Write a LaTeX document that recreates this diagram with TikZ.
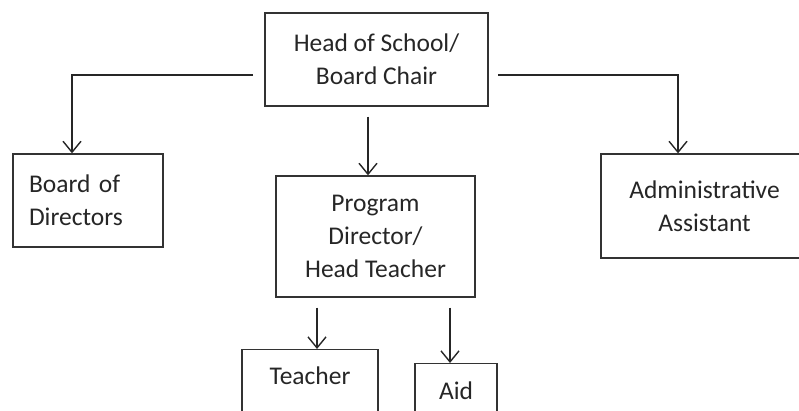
\documentclass[tikz,border=0pt]{standalone}
\usepackage{fontspec}
\setmainfont{Carlito}
\usetikzlibrary{arrows.meta,positioning,calc}
\tikzset{
	block/.style = {draw=black!80, line width=1.3pt, fill=white, rectangle, inner sep=0pt, align=center,
		font=\fontsize{25.5}{33}\selectfont, text=black!85},
	link/.style  = {->, draw=black!85, line width=1.4pt},
	tmp/.style   = {coordinate}
}
\begin{document}
\begin{tikzpicture}[x=1pt,y=-1pt,>={Straight Barb[length=11pt,width=18pt]}]
	\useasboundingbox (0,0) rectangle (799,411);
	\clip (0,0) rectangle (799,411);
	\node [block, minimum width=223pt, minimum height=93pt] (A) at (376.5,59.5) {Head of School/\\Board Chair};
	\node [block, minimum width=150pt, minimum height=93pt, text width=118pt, align=left] (B) at (88,200.5) {Board of\\Directors};
	\node [block, minimum width=199pt, minimum height=121pt] (C) at (375.5,236.5) {Program\\Director/\\Head Teacher};
	\node [block, minimum width=207pt, minimum height=104pt] (D) at (704.5,206) {Administrative\\Assistant};
	\node [block, anchor=north, minimum width=136pt, text height=35pt, text depth=45pt] (E) at (310,349) {Teacher};
	\node [block, anchor=north, minimum width=82pt, text height=36pt, text depth=45pt] (F) at (456,363) {Aid};

	\node [tmp] (left)  at (253,75) {};
	\node [tmp] (right) at (498,75) {};

	\draw [link] (left) -| ([xshift=-16pt]B.north);
	\draw [link] (right) -| ([xshift=-26.5pt]D.north);
	\draw [link] ([xshift=-8.5pt,yshift=-10pt]A.south) -- ([xshift=-7.5pt]C.north);
	\draw [link] ([xshift=-58.5pt,yshift=-10pt]C.south) -- ([xshift=7pt]E.north);
	\draw [link] ([xshift=74.5pt,yshift=-10pt]C.south) -- ([xshift=-6pt]F.north);
\end{tikzpicture}
\end{document}
